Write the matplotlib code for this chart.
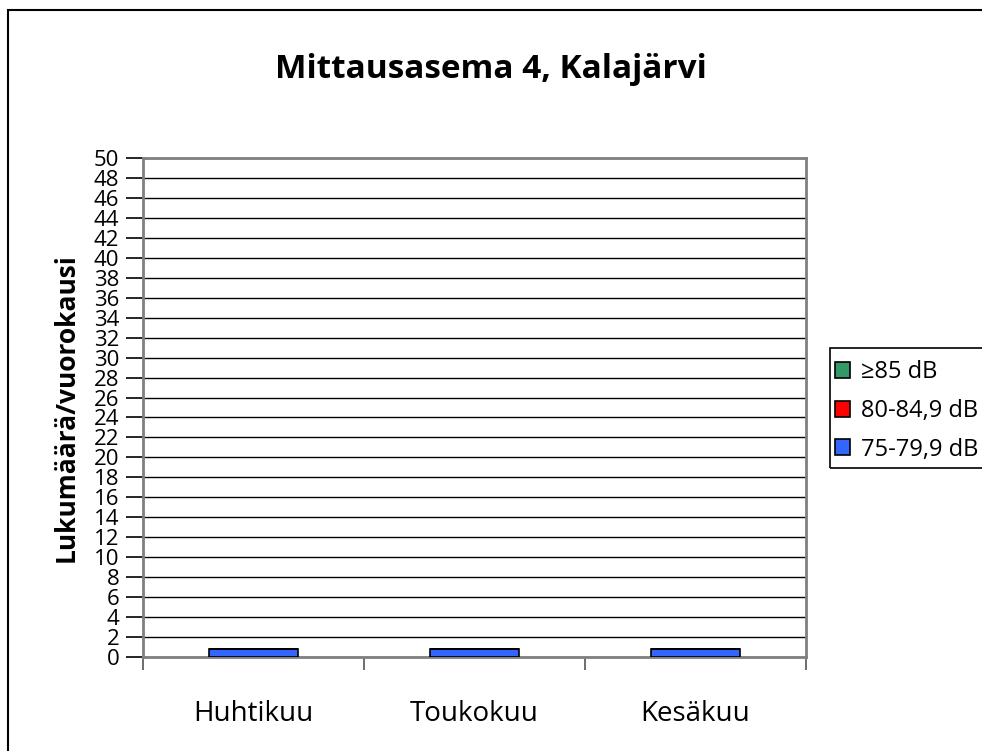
import numpy as np
import matplotlib.pyplot as plt
from matplotlib.patches import Rectangle

plt.rcParams['font.family'] = ['Open Sans', 'DejaVu Sans']

# monthly counts per day, stacked by noise level
months = ["Huhtikuu", "Toukokuu", "Kesäkuu"]
level_75 = [0.8, 0.8, 0.8]
level_80 = [0.0, 0.0, 0.0]
level_85 = [0.0, 0.0, 0.0]
series_names = ["75-79,9 dB", "80-84,9 dB", "≥85 dB"]
series_colors = ["#3366ff", "#ff0000", "#339966"]

W, H = 982, 751
fig = plt.figure(figsize=(W / 100, H / 100), dpi=100)
ax = fig.add_axes([143 / W, 1 - 657 / H, (806 - 143) / W, (657 - 158) / H])

# outer chart frame, running off the right and bottom edges
fig.patches.append(Rectangle((8 / W, -0.05), 1.1, 1 - 10 / H + 0.05,
                             transform=fig.transFigure, fill=False,
                             edgecolor="black", linewidth=1.5))
# legend frame, also cut by the right edge
fig.patches.append(Rectangle((830 / W, 1 - 468 / H), 0.2, 120 / H,
                             transform=fig.transFigure, fill=False,
                             edgecolor="black", linewidth=1.2))

x = np.arange(len(months))
bottom = np.zeros(len(months))
handles = []
for vals, name, col in zip([level_75, level_80, level_85], series_names, series_colors):
    b = ax.bar(x, vals, width=0.4, bottom=bottom, color=col,
               edgecolor="black", linewidth=1.2, label=name, zorder=3)
    handles.append(b)
    bottom += np.array(vals)

ax.set_xlim(-0.5, 2.5)
ax.set_ylim(0, 50)
ax.set_yticks(np.arange(0, 51, 2))
ax.yaxis.grid(True, color="black", linewidth=1.0, zorder=0)
ax.set_axisbelow(True)

# month labels centred, ticks on the category boundaries
ax.set_xticks(np.arange(-0.5, 2.6, 1.0))
ax.set_xticklabels([])
ax.set_xticks(x, minor=True)
ax.set_xticklabels(months, minor=True, fontsize=20)
ax.tick_params(axis="x", which="minor", length=0, pad=31)
ax.tick_params(axis="x", which="major", length=9, width=1.2, color="#555555")
ax.tick_params(axis="y", length=12, width=1.2, labelsize=16, pad=5)

for s in ["top", "right", "left", "bottom"]:
    ax.spines[s].set_color("#808080")
    ax.spines[s].set_linewidth(2)

ax.set_ylabel("Lukumäärä/vuorokausi", fontsize=19, fontweight="bold", labelpad=10)
fig.text(0.5, 1 - 70 / H, "Mittausasema 4, Kalajärvi", ha="center", va="center",
         fontsize=24, fontweight="bold")

leg = fig.legend(handles[::-1], [h.get_label() for h in handles[::-1]],
                 loc="center left", bbox_to_anchor=(835 / W, 1 - 411 / H),
                 fontsize=17, frameon=False,
                 handlelength=0.65, handleheight=0.65, handletextpad=0.45,
                 labelspacing=0.62, borderpad=0.0, borderaxespad=0)

fig.savefig("out.png", dpi=100)
